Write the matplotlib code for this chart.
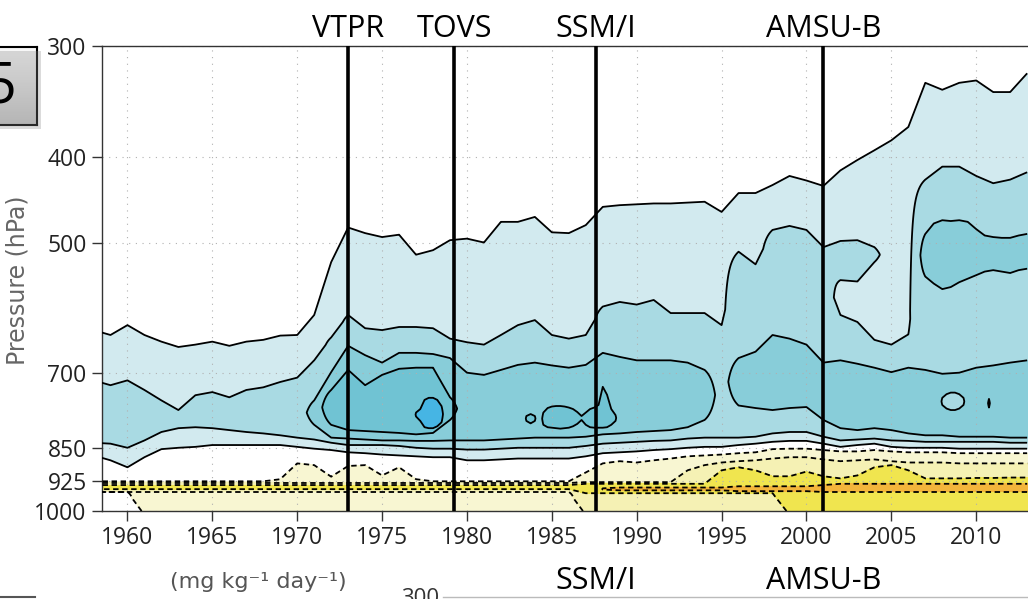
import numpy as np
import matplotlib
matplotlib.use("Agg")
import matplotlib.pyplot as plt
from matplotlib.lines import Line2D
from matplotlib.patches import Rectangle
from matplotlib.ticker import NullLocator
from matplotlib.transforms import blended_transform_factory

plt.rcParams['font.family'] = ['Open Sans', 'DejaVu Sans']
plt.rcParams['lines.dashed_pattern'] = [3.0, 2.0]

# ---- data: contour boundaries (hPa) read per year, 1958..2013 ----
years = np.arange(1958, 2014)
nan = np.nan

# moistening levels (solid contours)
top1 = [626, 634, 618, 634, 645, 654, 650, 645, 652, 645,
        642, 635, 634, 602, 525, 480, 487, 492, 489, 515,
        509, 496, 494, 499, 473, 473, 467, 486, 487, 477,
        455, 453, 452, 451, 451, 450, 449, 461, 439, 439,
        430, 420, 425, 431, 414, 403, 393, 383, 370, 330,
        336, 330, 328, 338, 338, 322]
bot1 = [866, 877, 893, 870, 852, 849, 847, 843, 843, 843,
        843, 843, 847, 851, 854, 859, 861, 864, 866, 868,
        870, 870, 877, 877, 875, 873, 873, 873, 873, 868,
        861, 859, 857, 854, 852, 849, 847, 847, 843, 840,
        836, 834, 834, 840, 847, 843, 840, 847, 849, 849,
        849, 851, 851, 851, 851, 851]
top2 = [713, 722, 713, 731, 751, 770, 741, 735, 745, 731,
        726, 716, 708, 677, 638, 602, 623, 626, 621, 621,
        623, 640, 646, 650, 634, 618, 610, 634, 640, 634,
        589, 582, 586, 579, 599, 599, 599, 618, 511, 528,
        483, 478, 483, 536, 602, 613, 642, 650, 633, 424,
        410, 410, 420, 428, 424, 416]
bot2 = [838, 840, 849, 833, 815, 807, 805, 807, 811, 815,
        818, 822, 827, 831, 838, 843, 843, 843, 845, 849,
        851, 851, 853, 853, 851, 849, 849, 849, 849, 845,
        840, 838, 836, 834, 833, 829, 827, 827, 827, 825,
        818, 815, 815, 825, 833, 831, 829, 833, 834, 836,
        836, 836, 836, 836, 838, 838]
blob2_years = [2001, 2002, 2003, 2004]
blob2_top = [505, 497, 496, 505]
blob2_bot = [540, 550, 552, 525]
top3 = [nan] * 13 + [751, 698, 652, 668, 681, 664, 664,
        666, 673, 699, 703, 694, 685, 681, 686, 690, 685,
        664, 671, 677, 677, 677, 681, 694, nan, 673, 662,
        634, 640, 650, 681, 677, 683, 690, 698, 690, 694,
        701, 699, 690, 686, 681, 677]
bot3 = [nan] * 13 + [800, 827, 829, 831, 833, 833, 834,
        834, 833, 833, 833, 831, 829, 827, 827, 827, 825,
        820, 818, 815, 813, 811, 805, 790, nan, 761, 766,
        770, 766, 764, 790, 807, 811, 807, 811, 818, 822,
        822, 825, 825, 825, 827, 827]
up3_years = np.arange(2006.5, 2013.01, 0.5)
up3_top = [nan, 488, 475, 471, 472, 471, 473, 482, 490, 492, 493, 493, 490, 488]
up3_bot = [nan, 545, 555, 563, 560, 553, 548, 543, 538, 536, 538, 540, 536, 534]
hole3_years = np.arange(2007.75, 2011.01, 0.25)
hole3_top = [nan, 746, 739, 736, 736, 739, 746, nan, nan, nan, nan, nan, 748, nan]
hole3_bot = [nan, 760, 767, 770, 770, 767, 760, nan, nan, nan, nan, nan, 765, nan]
core4_years = np.arange(1971, 1981)
core4_top = [nan, 731, 694, 722, 703, 692, 690, 690, 745, nan]
core4_bot = [nan, 800, 811, 813, 815, 817, 820, 817, 790, nan]
blob4_years = np.arange(1983.25, 1989.01, 0.25)
blob4_top = [nan, 782, 778, 782, nan, 775, 766, 763, 762, 762, 763, 765,
             768, 774, 782, 775, 768, 765, 760, 725, 740, 768, 780, nan]
blob4_bot = [nan, 792, 797, 792, nan, 800, 805, 806, 807, 808, 807, 806,
             803, 798, 790, 800, 805, 806, 806, 806, 805, 800, 792, nan]
core5_years = np.arange(1976.75, 1978.76, 0.25)
core5_top = [nan, 775, 768, 750, 746, 746, 750, 762, nan]
core5_bot = [nan, 783, 792, 805, 807, 807, 803, 795, nan]

# drying levels (dashed contours)
ytop1 = [926] * 11 + [921, 884, 888, 915, 890, 888, 912, 893, 921] + [926] * 9 + [905,
         884, 879, 882, 877, 873, 868, 866, 864, 861, 859,
         852, 851, 851, 854, 857, 857, 854, 857, 859, 859,
         859, 861, 861, 861, 861, 861]
ybot1 = [952] * 3 + [1010] * 53
ytop2 = [930] * 29 + [928] * 6 + [900, 888, 882, 879, 877, 873, 870, 870, 875, 879,
                                  877, 875, 879, 882, 882, 882] + [884] * 5
ybot2 = [952] * 29 + [1010] * 27
ytop3 = [935] * 29 + [932] * 8 + [900, 893, 900, 914, 914, 903, 914, 919, 912, 893,
                                  888, 900, 919, 919, 919, 918, 918, 917, 917]
ybot3 = [945] * 29 + [955] * 12 + [1010] * 15
ytop4 = [nan] * 30 + [943] + [941] * 7 + [938] * 5 + [935] + [932] * 12
ybot4 = [nan] * 30 + [946] + [948] * 7 + [950] * 5 + [952] * 13

sensor_years = [1973.0, 1979.25, 1987.6, 2001.0]
sensor_names = ['VTPR', 'TOVS', 'SSM/I', 'AMSU-B']
p_ticks = [300, 400, 500, 700, 850, 925, 1000]
x_ticks = np.arange(1960, 2011, 5)

blues = ['#d2eaef', '#a9dae3', '#88cdd9', '#70c3d3', '#46b5e4']
yellows = ['#f8f6d2', '#f5f1b4', '#f0e54f', '#f3b53b']

# ---- field helpers ----
W = 0.04
P = np.geomspace(300, 1000, 700)


def band(tops, bots):
    tops = np.asarray(tops, float)
    bots = np.asarray(bots, float)
    lp = np.log(P)[:, None]
    d = np.minimum(lp - np.log(tops)[None, :], np.log(bots)[None, :] - lp)
    d[:, np.isnan(tops)] = -W
    return d


def on_years(sub_years, vals):
    full = np.full(len(years), np.nan)
    full[np.searchsorted(years, sub_years)] = vals
    return full


def draw(ax, xs, d, color, ls='solid'):
    ax.contourf(xs, P, d, levels=[0, 99], colors=[color], zorder=1)
    ax.contour(xs, P, d, levels=[0], colors='k', linewidths=1.3,
               linestyles=ls, zorder=3)


fig = plt.figure(figsize=(10.28, 5.99), dpi=100)
ax = fig.add_axes([102 / 1028, 1 - 511 / 599, 926 / 1028, 465 / 599])
ax.set_yscale('log')

draw(ax, years, band(ytop1, ybot1), yellows[0], 'dashed')
draw(ax, years, band(ytop2, ybot2), yellows[1], 'dashed')
draw(ax, years, band(ytop3, ybot3), yellows[2], 'dashed')
draw(ax, years, band(ytop4, ybot4), yellows[3], 'dashed')

draw(ax, years, band(top1, bot1), blues[0])
d2 = np.maximum(band(top2, bot2),
                band(on_years(blob2_years, blob2_top), on_years(blob2_years, blob2_bot)))
draw(ax, years, d2, blues[1])
draw(ax, years, band(top3, bot3), blues[2])
draw(ax, up3_years, band(up3_top, up3_bot), blues[2])
draw(ax, hole3_years, band(hole3_top, hole3_bot), blues[1])
draw(ax, core4_years, band(core4_top, core4_bot), blues[3])
draw(ax, blob4_years, band(blob4_top, blob4_bot), blues[3])
draw(ax, core5_years, band(core5_top, core5_bot), blues[4])

for yr in sensor_years:
    ax.axvline(yr, color='k', lw=2.6, zorder=4)

trans = blended_transform_factory(ax.transData, ax.transAxes)
for yr, name in zip(sensor_years, sensor_names):
    ax.text(yr, 1.019, name, transform=trans, ha='center', va='baseline',
            fontsize=22, color='k')
for yr, name in zip(sensor_years[2:], sensor_names[2:]):
    ax.text(yr, -0.168, name, transform=trans, ha='center', va='baseline',
            fontsize=22, color='k', clip_on=False)

ax.set_xlim(1958.5, 2013.05)
ax.set_ylim(1000, 300)
ax.set_xticks(x_ticks)
ax.set_yticks(p_ticks)
ax.set_yticklabels([str(p) for p in p_ticks])
ax.yaxis.set_minor_locator(NullLocator())
ax.tick_params(direction='out', length=7, width=1, colors='#333333',
               labelsize=16.5, labelcolor='#222222', pad=4)
ax.grid(True, color='#b0b0b0', linestyle=(0, (1, 5)), linewidth=0.8)
for side in ['top', 'left', 'bottom']:
    ax.spines[side].set_color('#333333')
    ax.spines[side].set_linewidth(1.0)
ax.spines['right'].set_visible(False)

fig.text(18 / 1028, 1 - 280 / 599, 'Pressure (hPa)', rotation=90, ha='center',
         va='center', fontsize=17, color='#666666', family=['DejaVu Sans'])
fig.text(258 / 1028, 1 - 588 / 599, '(mg kg⁻¹ day⁻¹)', ha='center', va='baseline',
         fontsize=16, color='#555555', family=['DejaVu Sans'])
fig.text(420 / 1028, 1 - 604 / 599, '300', ha='center', va='baseline',
         fontsize=16, color='#333333')

# panel letter box
fig.add_artist(Rectangle((-10 / 1028, 1 - 129 / 599), 51 / 1028, 78 / 599,
                         transform=fig.transFigure, facecolor='#888888',
                         alpha=0.3, edgecolor='none'))
bx = fig.add_axes([-10 / 1028, 1 - 125 / 599, 47 / 1028, 78 / 599])
bx.imshow(np.linspace(0, 1, 50)[:, None], cmap='Greys', vmin=-0.2, vmax=3.5,
          aspect='auto', extent=[0, 1, 0, 1])
bx.set_xticks([])
bx.set_yticks([])
for s in bx.spines.values():
    s.set_linewidth(1.5)
fig.text(0.5 / 1028, 1 - 88 / 599, '5', ha='center', va='center', fontsize=40,
         color='k')

fig.add_artist(Line2D([443 / 1028, 1], [1 - 597 / 599] * 2, color='#bbbbbb', lw=1))
fig.add_artist(Line2D([0, 35 / 1028], [1 - 597 / 599] * 2, color='#555555', lw=1.5))

fig.savefig('out.png', dpi=100)
